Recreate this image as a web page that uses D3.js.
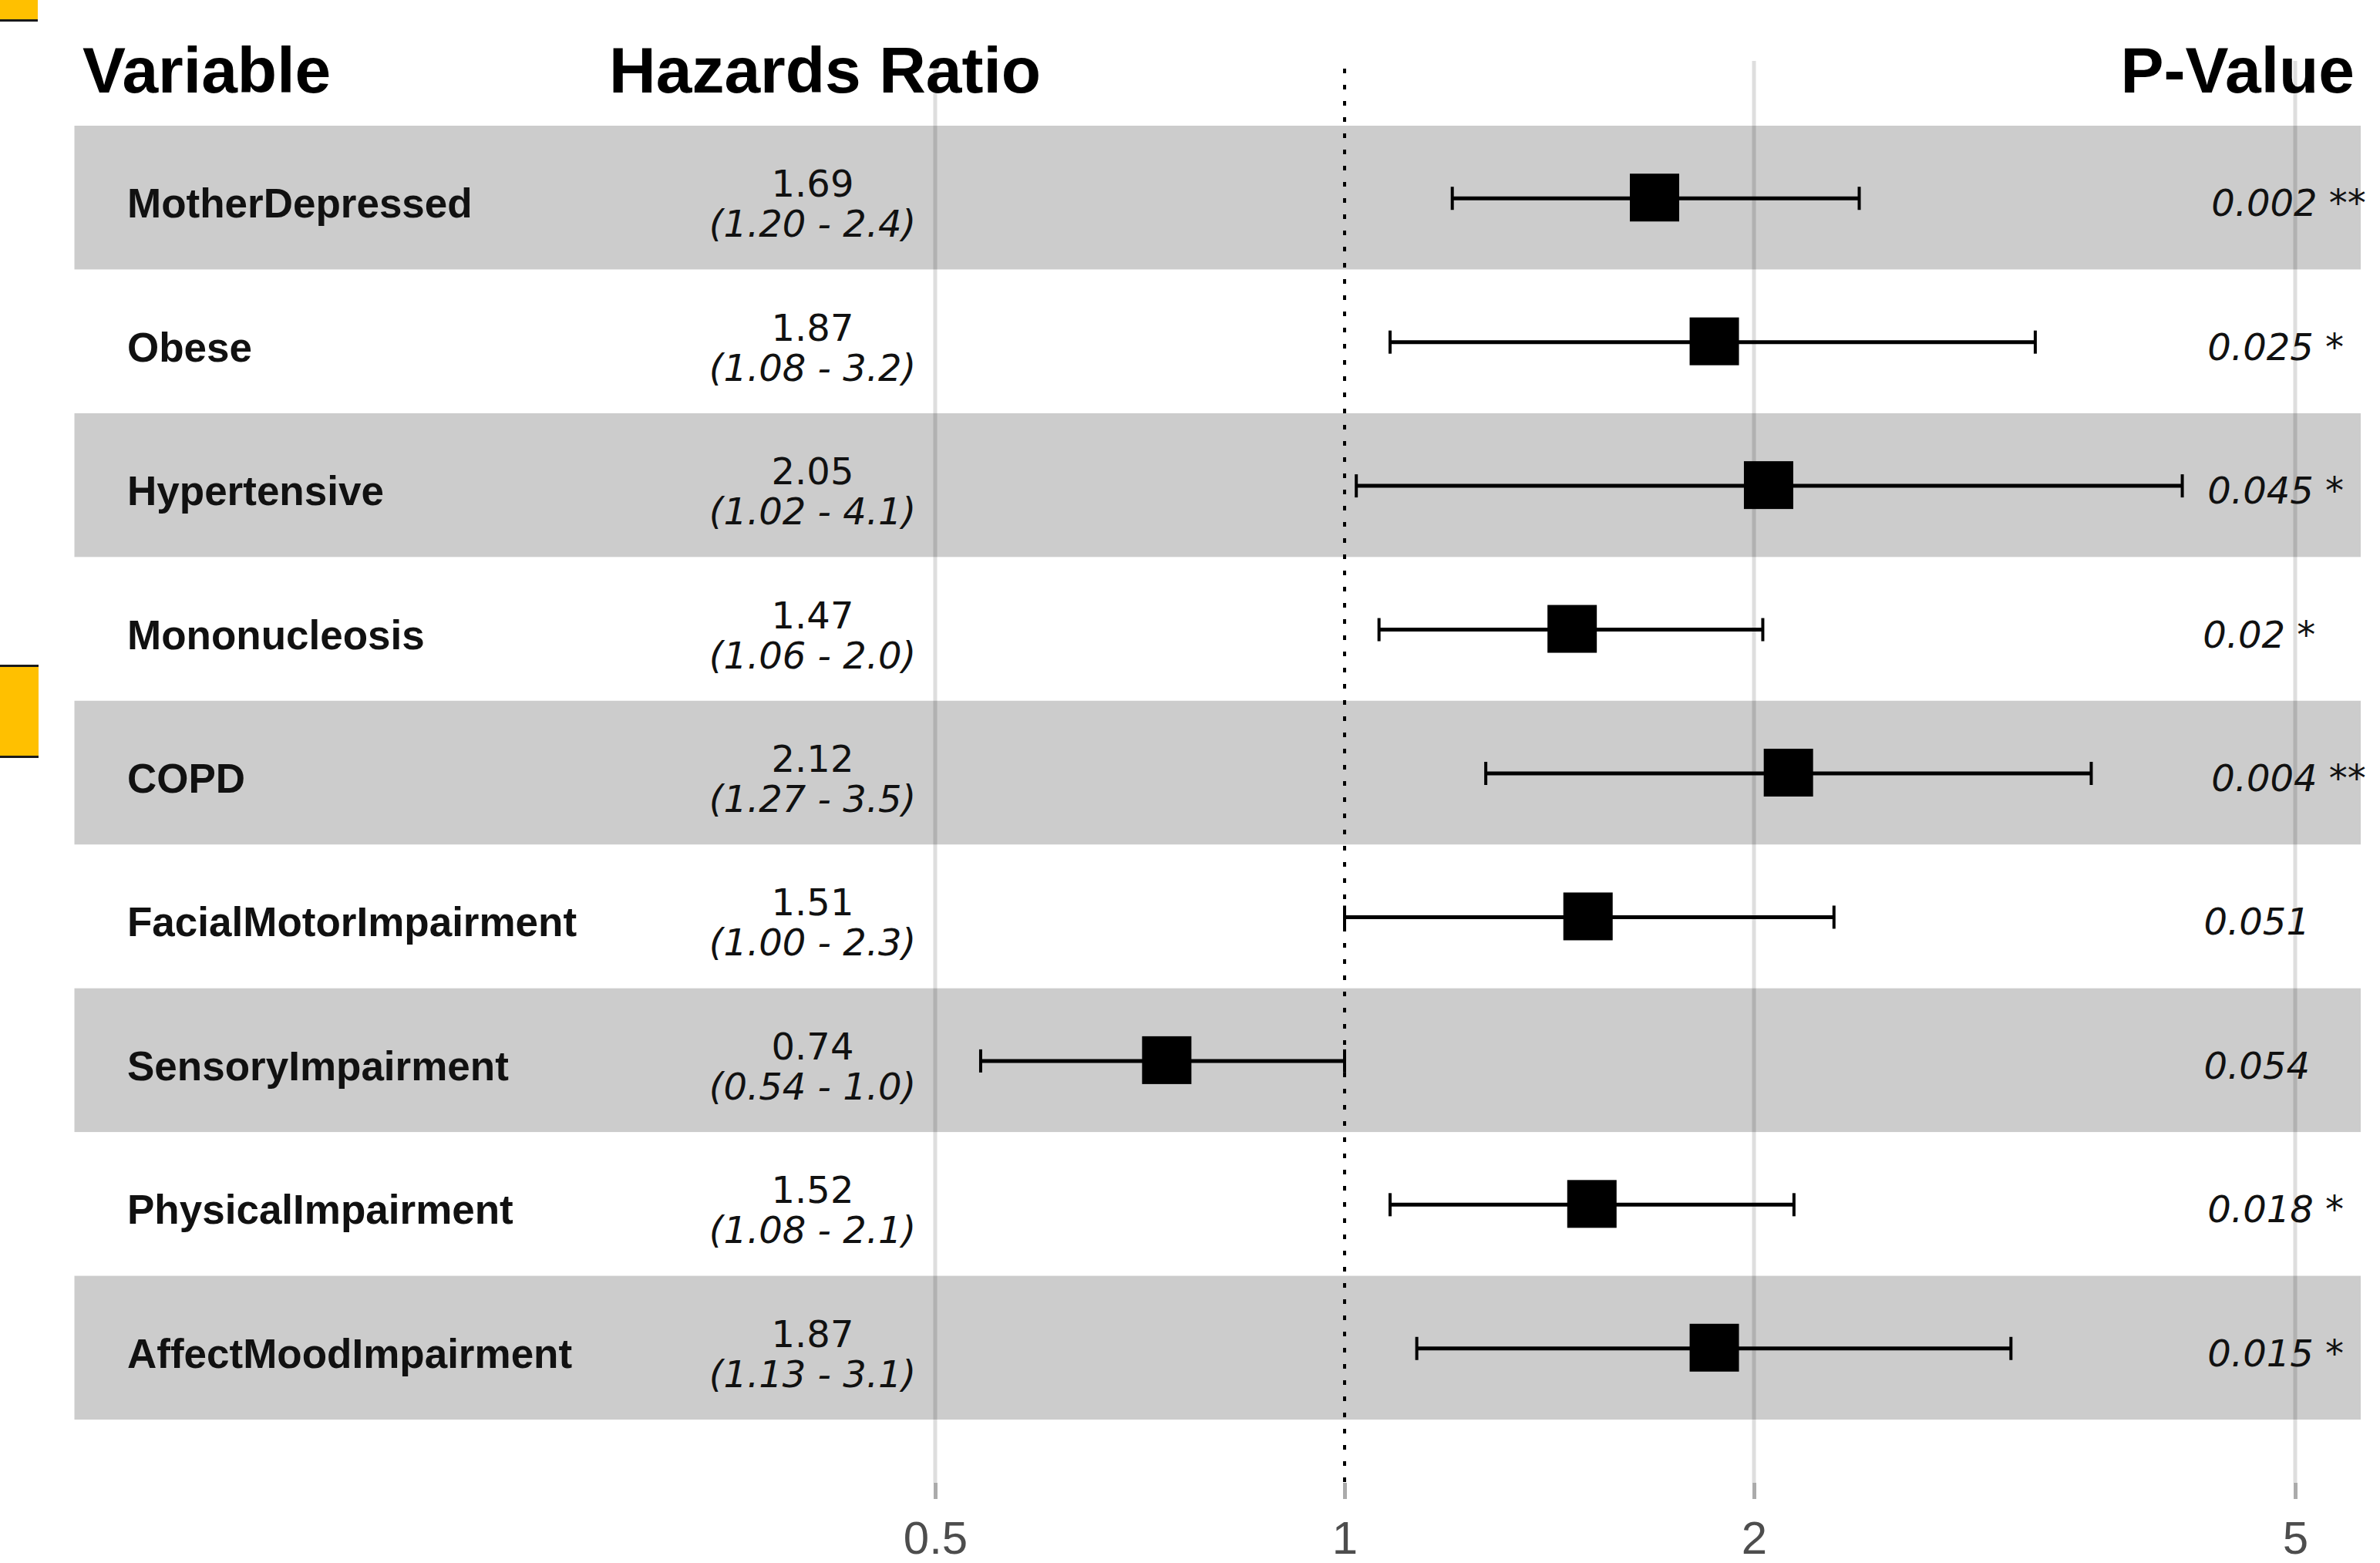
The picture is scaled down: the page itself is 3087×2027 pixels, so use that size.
<!DOCTYPE html>
<html>
<head>
<meta charset="utf-8">
<script src="https://cdn.jsdelivr.net/npm/d3@7"></script>
<style>
  html, body { margin: 0; padding: 0; background: #ffffff; }
  svg { display: block; }
</style>
</head>
<body>
<script>
// ---- data ----
const variables = ["MotherDepressed", "Obese", "Hypertensive", "Mononucleosis", "COPD",
  "FacialMotorImpairment", "SensoryImpairment", "PhysicalImpairment", "AffectMoodImpairment"];
const hazardRatio = [1.69, 1.87, 2.05, 1.47, 2.12, 1.51, 0.74, 1.52, 1.87];
const ciLower = [1.20, 1.08, 1.02, 1.06, 1.27, 1.00, 0.54, 1.08, 1.13];
const ciUpper = [2.39, 3.22, 4.13, 2.03, 3.54, 2.29, 1.00, 2.14, 3.09];
const pValues = ["0.002", "0.025", "0.045", "0.02", "0.004", "0.051", "0.054", "0.018", "0.015"];
const tickValues = [0.5, 1, 2, 5];
const headers = ["Variable", "Hazards Ratio", "P-Value"];

// ---- layout ----
const W = 3087, H = 2027;
const svg = d3.select("body").append("svg").attr("width", W).attr("height", H);

const x = d3.scaleLog().domain([0.5, 5]).range([1213, 2977]);
const y = d3.scaleBand().domain(variables).range([163, 1841]).padding(0);
const panelTop = 79, panelBottom = 1923;

// decorative yellow cell markers
function marker(x0, y0, w, h, topLine, bottomLine) {
  svg.append("rect").attr("x", x0).attr("y", y0).attr("width", w).attr("height", h).attr("fill", "#FFC000");
  if (topLine) svg.append("rect").attr("x", x0).attr("y", y0 - 3).attr("width", w).attr("height", 3).attr("fill", "#1a1a1a");
  if (bottomLine) svg.append("rect").attr("x", x0).attr("y", y0 + h).attr("width", w).attr("height", 3).attr("fill", "#1a1a1a");
}
marker(0, 0, 49, 25, false, true);
marker(0, 865, 50, 115, true, true);

// gridlines
svg.append("g").selectAll("line").data(tickValues.filter(d => d !== 1)).join("line")
  .attr("x1", d => x(d)).attr("x2", d => x(d))
  .attr("y1", panelTop).attr("y2", panelBottom)
  .attr("stroke", "#DEDEDE").attr("stroke-width", 5);

// alternating bands (translucent black, over gridlines)
svg.append("g").selectAll("rect").data(variables.filter((d, i) => i % 2 === 0)).join("rect")
  .attr("x", 96.5).attr("width", 3062 - 96.5)
  .attr("y", d => y(d)).attr("height", y.bandwidth())
  .attr("fill", "#000").attr("fill-opacity", 0.2);

// reference line at 1
svg.append("line")
  .attr("x1", x(1)).attr("x2", x(1)).attr("y1", panelTop + 10).attr("y2", panelBottom)
  .attr("stroke", "#000").attr("stroke-width", 4).attr("stroke-dasharray", "6 15");

// axis
const axis = d3.axisBottom(x).tickValues(tickValues).tickFormat(d => String(d))
  .tickSize(21).tickPadding(28);
const gAxis = svg.append("g").attr("transform", `translate(0,${panelBottom})`).call(axis);
gAxis.select(".domain").remove();
gAxis.selectAll(".tick line").attr("stroke", "#ABABAB").attr("stroke-width", 5);
gAxis.selectAll(".tick text").attr("fill", "#4D4D4D")
  .style("font-family", "'Liberation Sans', Arial, sans-serif").style("font-size", "60px");

// headers
const headFont = "'Liberation Sans', Arial, sans-serif";
svg.append("text").attr("x", 107).attr("y", 120).text(headers[0])
  .style("font-family", headFont).style("font-weight", "bold").style("font-size", "84px");
svg.append("text").attr("x", 790).attr("y", 120).text(headers[1])
  .style("font-family", headFont).style("font-weight", "bold").style("font-size", "84px");
svg.append("text").attr("x", 3054).attr("y", 120).attr("text-anchor", "end").text(headers[2])
  .style("font-family", headFont).style("font-weight", "bold").style("font-size", "84px");

const rows = variables.map((v, i) => ({
  name: v, hr: hazardRatio[i], lo: ciLower[i], hi: ciUpper[i], p: pValues[i]
}));
const yc = d => y(d.name) + y.bandwidth() / 2;

// variable names
svg.append("g").selectAll("text").data(rows).join("text")
  .attr("x", 165).attr("y", d => yc(d) + 26).text(d => d.name)
  .style("font-family", headFont).style("font-weight", "bold").style("font-size", "53px").attr("fill", "#111");

// HR labels
const numFont = "'DejaVu Sans', Verdana, sans-serif";
const hrG = svg.append("g").selectAll("g").data(rows).join("g");
hrG.append("text").attr("x", 1054).attr("y", d => yc(d) - 1).attr("text-anchor", "middle")
  .text(d => d.hr.toFixed(2))
  .style("font-family", numFont).style("font-size", "48px").attr("fill", "#111");
hrG.append("text").attr("x", 1054).attr("y", d => yc(d) + 51).attr("text-anchor", "middle")
  .text(d => `(${d.lo.toFixed(2)} - ${d.hi.toFixed(1)})`)
  .style("font-family", numFont).style("font-style", "italic").style("font-size", "48px").attr("fill", "#111");

// p-values (hjust = -0.2 relative to anchor)
const pAnchor = 2828;
const pText = svg.append("g").selectAll("text").data(rows).join("text")
  .attr("y", d => yc(d) + 24)
  .attr("xml:space", "preserve")
  .text(d => {
    const p = +d.p;
    return d.p + " " + (p < 0.05 ? "*" : "") + (p < 0.01 ? "*" : "");
  })
  .style("font-family", numFont).style("font-style", "italic").style("font-size", "48px").attr("fill", "#111");
pText.each(function () {
  const w = this.getComputedTextLength();
  d3.select(this).attr("x", pAnchor + 0.2 * w);
});

// error bars
const eb = svg.append("g").selectAll("g").data(rows).join("g");
eb.append("line").attr("x1", d => x(d.lo)).attr("x2", d => x(d.hi))
  .attr("y1", d => yc(d) + 1).attr("y2", d => yc(d) + 1)
  .attr("stroke", "#000").attr("stroke-width", 5);
eb.append("line").attr("x1", d => x(d.lo)).attr("x2", d => x(d.lo))
  .attr("y1", d => yc(d) + 1 - 15).attr("y2", d => yc(d) + 1 + 15)
  .attr("stroke", "#000").attr("stroke-width", 4);
eb.append("line").attr("x1", d => x(d.hi)).attr("x2", d => x(d.hi))
  .attr("y1", d => yc(d) + 1 - 15).attr("y2", d => yc(d) + 1 + 15)
  .attr("stroke", "#000").attr("stroke-width", 4);

// points
const sq = 64;
svg.append("g").selectAll("rect").data(rows).join("rect")
  .attr("x", d => x(d.hr) - sq / 2).attr("y", d => yc(d) - sq / 2 + 1)
  .attr("width", sq).attr("height", sq - 2).attr("fill", "#000");
</script>
</body>
</html>
